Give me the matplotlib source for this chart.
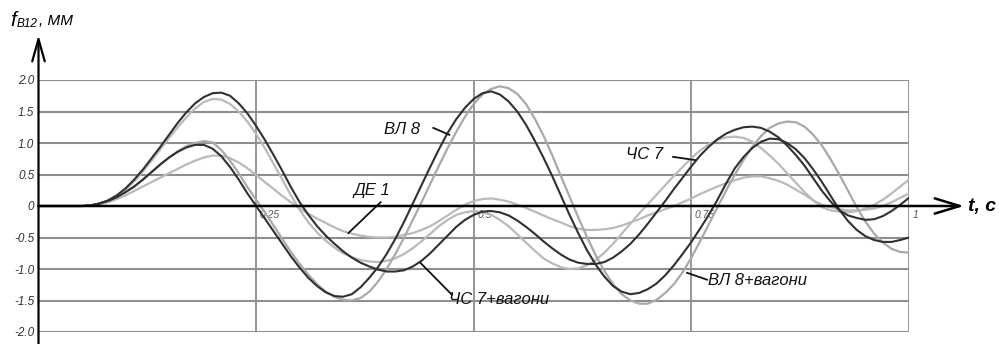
import numpy as np
import matplotlib
matplotlib.use("Agg")
import matplotlib.pyplot as plt
from matplotlib.patches import FancyArrowPatch

FAM = ['Liberation Sans Narrow', 'Liberation Sans', 'DejaVu Sans']
plt.rcParams['font.family'] = FAM

# time grid, s (0.00 ... 1.00 every 0.01)
t = np.round(np.arange(101) * 0.01, 2)

# deflection f_B12, mm, read at every 0.01 s
chs7_wag = [0, 0, 0, 0, 0, 0, 0.01, 0.04, 0.09, 0.17,
            0.28, 0.42, 0.58, 0.76, 0.94, 1.13, 1.32, 1.49, 1.63, 1.73,
            1.79, 1.80, 1.75, 1.63, 1.47, 1.27, 1.05, 0.81, 0.56, 0.30,
            0.06, -0.14, -0.32, -0.47, -0.60, -0.72, -0.82, -0.90, -0.96, -1.01,
            -1.04, -1.04, -1.02, -0.96, -0.87, -0.75, -0.61, -0.47, -0.33, -0.22,
            -0.14, -0.09, -0.08, -0.10, -0.15, -0.23, -0.33, -0.44, -0.56, -0.67,
            -0.77, -0.85, -0.90, -0.92, -0.92, -0.89, -0.82, -0.72, -0.60, -0.45,
            -0.28, -0.10, 0.08, 0.27, 0.45, 0.63, 0.80, 0.94, 1.06, 1.15,
            1.21, 1.25, 1.26, 1.24, 1.18, 1.09, 0.96, 0.81, 0.64, 0.44,
            0.24, 0.07, -0.07, -0.15, -0.19, -0.22, -0.21, -0.16, -0.08, 0.02, 0.13]

vl8 = [0, 0, 0, 0, 0, 0, 0.01, 0.04, 0.08, 0.14,
       0.22, 0.31, 0.42, 0.54, 0.66, 0.77, 0.86, 0.93, 0.97, 0.97,
       0.91, 0.79, 0.62, 0.42, 0.20, 0.00, -0.20, -0.40, -0.60, -0.80,
       -0.98, -1.14, -1.27, -1.37, -1.43, -1.44, -1.40, -1.29, -1.14, -0.97,
       -0.76, -0.52, -0.25, 0.04, 0.33, 0.62, 0.90, 1.16, 1.38, 1.56,
       1.70, 1.79, 1.82, 1.77, 1.66, 1.50, 1.29, 1.04, 0.77, 0.48,
       0.17, -0.14, -0.43, -0.70, -0.93, -1.12, -1.27, -1.36, -1.40, -1.38,
       -1.32, -1.23, -1.10, -0.94, -0.76, -0.57, -0.36, -0.14, 0.10, 0.36,
       0.60, 0.78, 0.92, 1.02, 1.07, 1.06, 1.00, 0.90, 0.76, 0.58,
       0.38, 0.16, -0.06, -0.24, -0.38, -0.48, -0.54, -0.57, -0.57, -0.54, -0.50]

vl8_wag = [0, 0, 0, 0, 0, 0, 0.01, 0.04, 0.08, 0.14,
           0.22, 0.31, 0.42, 0.54, 0.66, 0.77, 0.87, 0.95, 1.00, 1.03,
           1.01, 0.89, 0.72, 0.52, 0.30, 0.10, -0.10, -0.31, -0.52, -0.73,
           -0.92, -1.09, -1.24, -1.36, -1.44, -1.49, -1.50, -1.46, -1.36, -1.20,
           -1.00, -0.76, -0.50, -0.22, 0.06, 0.35, 0.64, 0.92, 1.18, 1.42,
           1.62, 1.77, 1.86, 1.90, 1.87, 1.78, 1.62, 1.39, 1.12, 0.81,
           0.48, 0.15, -0.18, -0.49, -0.78, -1.03, -1.24, -1.40, -1.50, -1.55,
           -1.55, -1.49, -1.38, -1.24, -1.05, -0.82, -0.56, -0.29, -0.02, 0.25,
           0.50, 0.73, 0.94, 1.11, 1.24, 1.31, 1.34, 1.33, 1.26, 1.13,
           0.96, 0.74, 0.50, 0.24, -0.02, -0.25, -0.44, -0.58, -0.68, -0.73, -0.74]

chs7 = [0, 0, 0, 0, 0, 0, 0.01, 0.03, 0.08, 0.16,
        0.26, 0.39, 0.55, 0.72, 0.90, 1.08, 1.25, 1.41, 1.55, 1.65,
        1.70, 1.69, 1.62, 1.50, 1.34, 1.14, 0.92, 0.67, 0.42, 0.17,
        -0.06, -0.26, -0.42, -0.55, -0.66, -0.75, -0.81, -0.86, -0.88, -0.89,
        -0.87, -0.83, -0.76, -0.67, -0.56, -0.44, -0.32, -0.22, -0.14, -0.10,
        -0.08, -0.10, -0.14, -0.22, -0.32, -0.45, -0.58, -0.71, -0.83, -0.91,
        -0.97, -1.00, -0.99, -0.94, -0.86, -0.74, -0.60, -0.44, -0.28, -0.12,
        0.03, 0.18, 0.33, 0.48, 0.62, 0.76, 0.88, 0.98, 1.05, 1.09,
        1.10, 1.08, 1.02, 0.92, 0.80, 0.67, 0.52, 0.37, 0.22, 0.09,
        -0.02, -0.07, -0.09, -0.10, -0.08, -0.04, 0.02, 0.10, 0.20, 0.31, 0.42]

de1 = [0, 0, 0, 0, 0, 0, 0.01, 0.03, 0.06, 0.11,
       0.17, 0.24, 0.31, 0.38, 0.45, 0.52, 0.59, 0.66, 0.72, 0.77,
       0.80, 0.80, 0.76, 0.69, 0.60, 0.49, 0.38, 0.27, 0.16, 0.06,
       -0.04, -0.12, -0.20, -0.27, -0.34, -0.40, -0.44, -0.47, -0.49, -0.50,
       -0.50, -0.49, -0.46, -0.43, -0.38, -0.32, -0.24, -0.15, -0.06, 0.02,
       0.08, 0.11, 0.12, 0.10, 0.07, 0.02, -0.03, -0.09, -0.15, -0.21,
       -0.26, -0.32, -0.36, -0.38, -0.38, -0.37, -0.35, -0.31, -0.26, -0.21,
       -0.15, -0.10, -0.05, 0.00, 0.06, 0.12, 0.19, 0.25, 0.31, 0.36,
       0.41, 0.45, 0.47, 0.47, 0.44, 0.40, 0.34, 0.26, 0.18, 0.09,
       0.02, -0.02, -0.05, -0.07, -0.07, -0.06, -0.04, 0.00, 0.06, 0.13, 0.20]

y_ticks = [2.0, 1.5, 1.0, 0.5, 0, -0.5, -1.0, -1.5, -2.0]
y_tick_labels = ['2.0', '1.5', '1.0', '0.5', '0', '-0.5', '-1.0', '-1.5', '-2.0']
x_ticks = [0.25, 0.5, 0.75, 1.0]
x_tick_labels = ['0.25', '0.5', '0.75', '1']

W, H = 999, 344
fig = plt.figure(figsize=(W / 100, H / 100), dpi=100)
fig.patch.set_facecolor('white')
ax = fig.add_axes([38.5 / W, 12 / H, 870.5 / W, 252 / H])
ax.set_xlim(0, 1)
ax.set_ylim(-2, 2)
for s in ax.spines.values():
    s.set_visible(False)

grid_c = '#8e8e8e'
for yv in y_ticks:
    if yv != 0:
        ax.axhline(yv, color=grid_c, lw=1.5, zorder=1)
for xv in x_ticks:
    ax.axvline(xv, color=grid_c, lw=1.3, zorder=1)

ax.set_xticks([])
ax.set_yticks(y_ticks)
ax.set_yticklabels(y_tick_labels, fontstyle='italic', fontsize=8.5, color='#333333')
ax.tick_params(axis='y', length=0, pad=3)

for xv, lab in zip(x_ticks, x_tick_labels):
    ax.text(xv + 0.004, -0.06, lab, ha='left', va='top', fontsize=7.5,
            fontstyle='italic', color='#555555', zorder=3)

light1 = '#a9a9a9'
light2 = '#bababa'
dark = '#303030'
ax.plot(t, de1, color=light2, lw=1.6, zorder=4)
ax.plot(t, chs7, color=light2, lw=1.6, zorder=4)
ax.plot(t, vl8_wag, color=light1, lw=1.6, zorder=4)
ax.plot(t, chs7_wag, color=dark, lw=1.5, zorder=5)
ax.plot(t, vl8, color=dark, lw=1.5, zorder=5)

lab_kw = dict(fontsize=12, fontstyle='italic', color='#111111', zorder=6)
ln_kw = dict(color='#111111', lw=1.3, zorder=6)
ax.text(0.418, 1.21, 'ВЛ 8', ha='center', va='center', **lab_kw)
ax.plot([0.4535, 0.472], [1.24, 1.13], **ln_kw)
ax.text(0.383, 0.25, 'ДЕ 1', ha='center', va='center', **lab_kw)
ax.plot([0.393, 0.356], [0.06, -0.43], **ln_kw)
ax.text(0.471, -1.49, 'ЧС 7+вагони', ha='left', va='center', **lab_kw)
ax.plot([0.475, 0.4386], [-1.41, -0.90], **ln_kw)
ax.text(0.696, 0.81, 'ЧС 7', ha='center', va='center', **lab_kw)
ax.plot([0.729, 0.754], [0.78, 0.73], **ln_kw)
ax.text(0.769, -1.19, 'ВЛ 8+вагони', ha='left', va='center', **lab_kw)
ax.plot([0.768, 0.745], [-1.17, -1.06], **ln_kw)


def fx(px):
    return px / W


def fy(py):
    return (H - py) / H


ya = FancyArrowPatch((fx(38.5), fy(344)), (fx(38.5), fy(35)), transform=fig.transFigure,
                     arrowstyle='->,head_length=1.6,head_width=0.45', mutation_scale=10,
                     color='black', lw=1.6, shrinkA=0, shrinkB=0)
fig.add_artist(ya)
xa = FancyArrowPatch((fx(38.5), fy(206)), (fx(964), fy(206)), transform=fig.transFigure,
                     arrowstyle='->,head_length=1.8,head_width=0.55', mutation_scale=10,
                     color='black', lw=1.8, shrinkA=0, shrinkB=0)
fig.add_artist(xa)

fig.text(fx(968), fy(206), 't, c', ha='left', va='center', fontsize=14,
         fontweight='bold', fontstyle='italic', color='black')

fig.text(fx(10), fy(26), 'f', ha='left', va='baseline', fontsize=15,
         fontstyle='italic', color='black')
fig.text(fx(17), fy(27), 'В12', ha='left', va='baseline', fontsize=8.5,
         fontstyle='italic', color='black')
fig.text(fx(39), fy(25), ', ММ', ha='left', va='baseline', fontsize=11,
         fontstyle='italic', color='black')

fig.savefig('out.png', dpi=100, facecolor='white')
